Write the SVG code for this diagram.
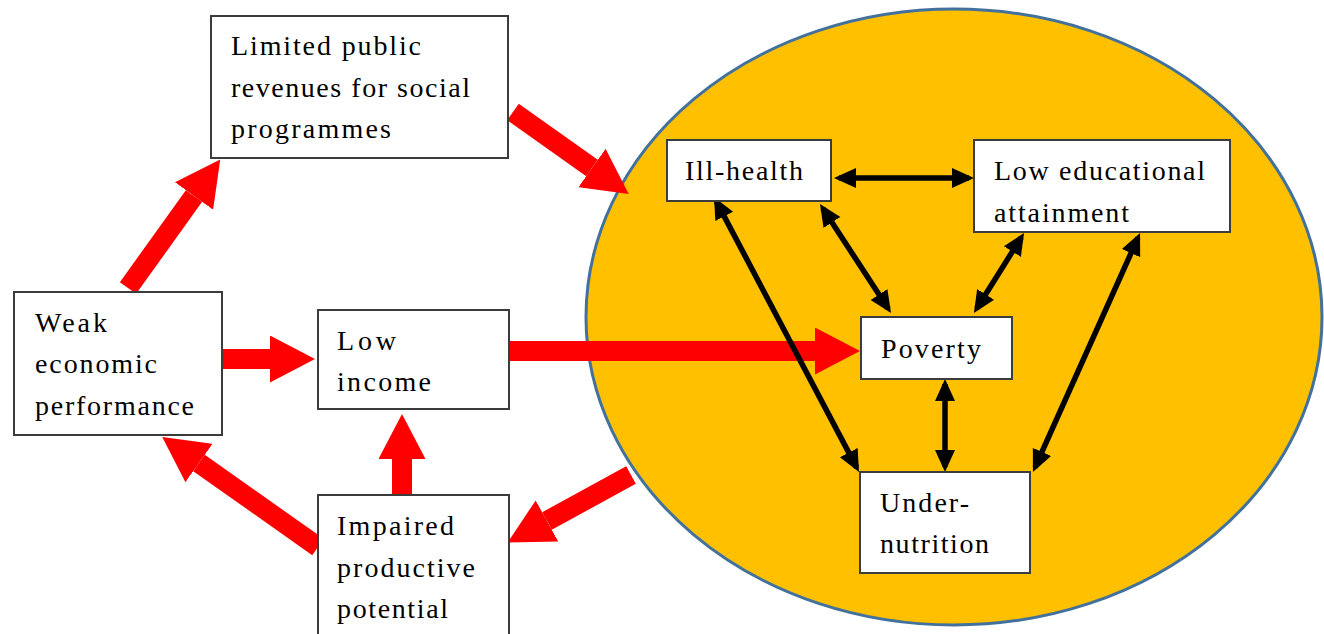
<svg xmlns="http://www.w3.org/2000/svg" width="1324" height="634" viewBox="0 0 1324 634">
<style>
.box{fill:#fff;stroke:#3c3c3c;stroke-width:2}
.t{font-family:"Liberation Serif","Times New Roman",serif;font-size:28px;fill:#000}
.red{stroke:#ff0000;stroke-width:20;fill:none;marker-end:url(#rh)}
.blk{stroke:#000;stroke-width:5.5;fill:none;marker-start:url(#bh);marker-end:url(#bh)}
</style>
<defs>
<marker id="rh" viewBox="0 0 10 10" refX="0" refY="5" markerUnits="strokeWidth" markerWidth="2.25" markerHeight="2.35" preserveAspectRatio="none" orient="auto">
<path d="M0,0 L10,5 L0,10 z" fill="#ff0000"/>
</marker>
<marker id="bh" viewBox="0 0 22 22" refX="17" refY="11" markerUnits="userSpaceOnUse" markerWidth="22" markerHeight="22" orient="auto-start-reverse">
<path d="M0,1 L22,11 L0,21 z" fill="#000"/>
</marker>
</defs>
<rect width="1324" height="634" fill="#fff"/>
<ellipse id="circle" cx="954" cy="317" rx="368" ry="308" fill="#ffc000" stroke="#41719c" stroke-width="3"/>
<g id="connectors">
<line class="red" x1="128" y1="288" x2="194" y2="196"/>
<line class="red" x1="513" y1="112" x2="592" y2="168"/>
<line class="red" x1="222" y1="359" x2="270" y2="359"/>
<line class="red" x1="509" y1="351" x2="815" y2="351"/>
<line class="red" x1="402" y1="496" x2="402" y2="459"/>
<line class="red" x1="318" y1="547" x2="199" y2="463"/>
<line class="red" x1="631" y1="475" x2="547" y2="521"/>
<line class="blk" x1="839" y1="178" x2="969" y2="178"/>
<line class="blk" x1="822.7" y1="208.2" x2="888.3" y2="308.8"/>
<line class="blk" x1="1021.4" y1="237.2" x2="976.6" y2="308.8"/>
<line class="blk" x1="716.3" y1="201.4" x2="856.7" y2="467.6"/>
<line class="blk" x1="1138" y1="237.6" x2="1035" y2="467.4"/>
<line class="blk" x1="945" y1="384" x2="945" y2="467"/>
</g>
<g id="limited">
<rect class="box" x="211" y="16" width="297" height="142"/>
<text class="t" x="231" y="55" textLength="190" lengthAdjust="spacing">Limited public</text>
<text class="t" x="231" y="97" textLength="239" lengthAdjust="spacing">revenues for social</text>
<text class="t" x="231" y="138" textLength="160" lengthAdjust="spacing">programmes</text>
</g>
<g id="weak">
<rect class="box" x="14" y="292" width="208" height="143"/>
<text class="t" x="35" y="332" textLength="72" lengthAdjust="spacing">Weak</text>
<text class="t" x="35" y="373" textLength="122" lengthAdjust="spacing">economic</text>
<text class="t" x="35" y="415" textLength="159" lengthAdjust="spacing">performance</text>
</g>
<g id="lowincome">
<rect class="box" x="318" y="310" width="191" height="99"/>
<text class="t" x="337" y="350" textLength="59" lengthAdjust="spacing">Low</text>
<text class="t" x="337" y="391" textLength="94" lengthAdjust="spacing">income</text>
</g>
<g id="impaired">
<rect class="box" x="318" y="495" width="191" height="160"/>
<text class="t" x="337" y="535" textLength="117" lengthAdjust="spacing">Impaired</text>
<text class="t" x="337" y="577" textLength="138" lengthAdjust="spacing">productive</text>
<text class="t" x="337" y="618" textLength="111" lengthAdjust="spacing">potential</text>
</g>
<g id="illhealth">
<rect class="box" x="667" y="140" width="164" height="61"/>
<text class="t" x="685" y="180" textLength="118" lengthAdjust="spacing">Ill-health</text>
</g>
<g id="education">
<rect class="box" x="974" y="140" width="256" height="92"/>
<text class="t" x="994" y="180" textLength="211" lengthAdjust="spacing">Low educational</text>
<text class="t" x="994" y="222" textLength="135" lengthAdjust="spacing">attainment</text>
</g>
<g id="poverty">
<rect class="box" x="861" y="317" width="151" height="62"/>
<text class="t" x="881" y="358" textLength="100" lengthAdjust="spacing">Poverty</text>
</g>
<g id="undernutrition">
<rect class="box" x="860" y="472" width="170" height="101"/>
<text class="t" x="880" y="512" textLength="89" lengthAdjust="spacing">Under-</text>
<text class="t" x="880" y="553" textLength="109" lengthAdjust="spacing">nutrition</text>
</g>
</svg>
